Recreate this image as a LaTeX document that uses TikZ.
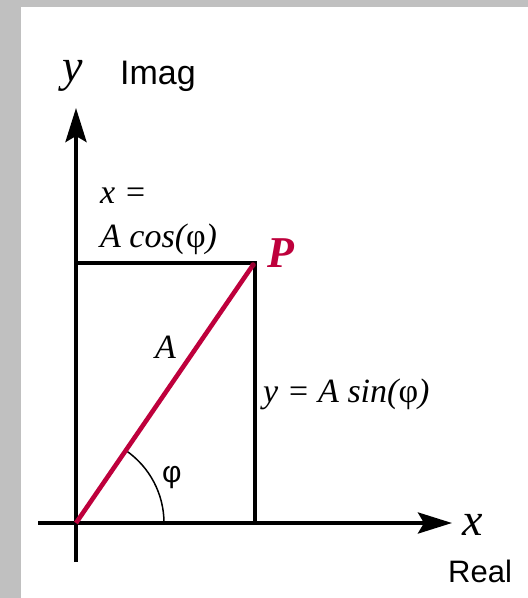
\documentclass[tikz,border=0pt]{standalone}
\usepackage{fontspec}
\setmainfont{Liberation Serif}
\newfontfamily\sansf{Liberation Sans}
\usetikzlibrary{arrows.meta}
\definecolor{bggray}{RGB}{192,192,192}
\definecolor{vecred}{RGB}{190,0,60}
\tikzset{
  axisline/.style={line width=4pt, -{Stealth[length=34pt,width=21pt,inset=6pt]}},
  boxline/.style={line width=4pt},
  vecline/.style={line width=4.6pt, vecred},
  anglearc/.style={line width=1.5pt},
  serif/.style={inner sep=0pt, font=\fontsize{34}{38}\selectfont\itshape},
  sanslbl/.style={inner sep=0pt, font=\fontsize{31}{36}\sansf},
  axislbl/.style={inner sep=0pt, font=\fontsize{46}{50}\selectfont\itshape},
}
\begin{document}
\begin{tikzpicture}[x=1pt,y=-1pt]
\useasboundingbox (0,0) rectangle (528,598);
\fill[bggray] (0,0) rectangle (528,598);
\fill[white] (21,7) rectangle (528,598);
% coordinates
\coordinate (O) at (76,523);
\coordinate (ybot) at (76,562);
\coordinate (ytop) at (76,108);
\coordinate (xleft) at (38,523);
\coordinate (xright) at (452,523);
\coordinate (P) at (253,265);
\coordinate (Ptop) at (255,263);
\coordinate (Pbot) at (255,523);
\coordinate (Pleft) at (76,263);
% axes
\draw[axisline] (ybot) -- (ytop);
\draw[axisline] (xleft) -- (xright);
% projection lines
\draw[boxline] (Pleft) -- (Ptop) -- (Pbot);
% angle arc
\draw[anglearc] (O) ++(88pt,0pt) arc[start angle=0, end angle=55.4, radius=88pt];
% vector
\draw[vecline] (O) -- (P);
\fill[vecred!80!black] (P) circle (2.8pt);
% labels
\node[axislbl, anchor=base west] (ylab) at (62,81) {y};
\node[sanslbl, anchor=base west, font=\fontsize{34}{38}\sansf] (imag) at (120,84) {Imag};
\node[axislbl, anchor=base west] (xlab) at (462,535) {x};
\node[sanslbl, anchor=base west] (real) at (448,582) {Real};
\node[serif, anchor=base west] (xeq) at (100,203) {x =};
\node[serif, anchor=base west] (acos) at (100,247) {A cos({\upshape φ})};
\node[serif, anchor=base west] (ysin) at (263,402) {y = A sin({\upshape φ})};
\node[serif, anchor=base west] (alab) at (155,358) {A};
\node[inner sep=0pt, anchor=base west, text=vecred, font=\fontsize{44}{48}\selectfont\bfseries\itshape] (plab) at (267,267) {P};
\node[sanslbl, anchor=base west, font=\fontsize{30}{34}\sansf] (philab) at (162,482) {φ};
\end{tikzpicture}
\end{document}
